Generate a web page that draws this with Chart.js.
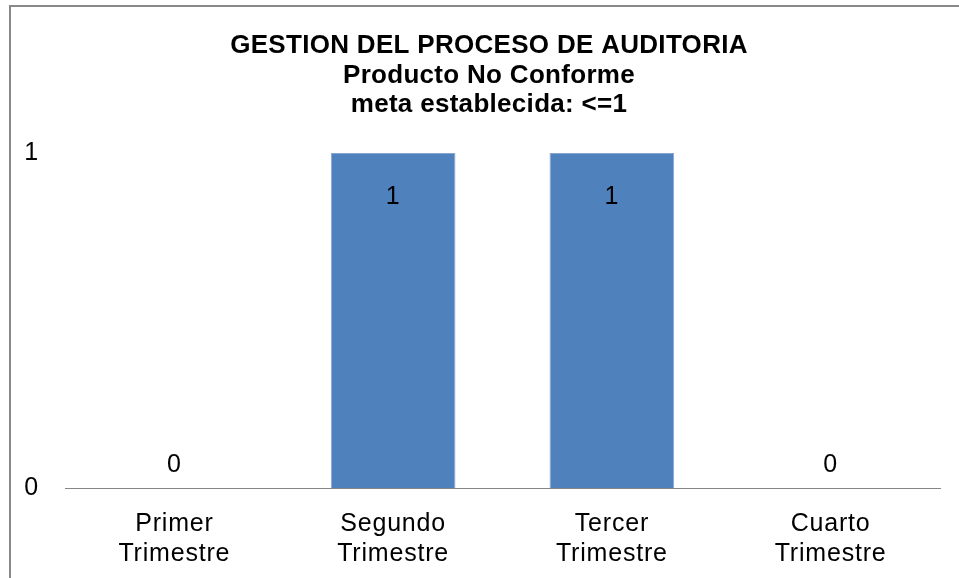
<!DOCTYPE html>
<html>
<head>
<meta charset="utf-8">
<script src="https://cdn.jsdelivr.net/npm/chart.js@4.4.1/dist/chart.umd.min.js"></script>
<style>
  html, body { margin: 0; padding: 0; background: #fff; overflow: hidden; }
  #marco { position: absolute; left: 9px; top: 5px; width: 990px; height: 620px; border: 2px solid #898989; box-sizing: border-box; }
  #lienzo { position: absolute; left: 0; top: 0; width: 959px; height: 578px; }
</style>
</head>
<body>
<div id="marco"></div>
<div id="lienzo"><canvas id="grafico"></canvas></div>
<script>
// Datos del gráfico
const titulo = ['GESTION DEL PROCESO DE AUDITORIA', 'Producto No Conforme', 'meta establecida: <=1'];
const trimestres = [['Primer', 'Trimestre'], ['Segundo', 'Trimestre'], ['Tercer', 'Trimestre'], ['Cuarto', 'Trimestre']];
const valores = [0, 1, 1, 0];
const ticksY = [0, 1];

const FUENTE = '"Liberation Sans", Arial, sans-serif';
const ESPACIADO = '0.8px';

// espaciado de letras (se pierde cada vez que el canvas cambia de tamaño)
const espaciado = {
    id: 'espaciado',
    beforeLayout(chart) { chart.ctx.letterSpacing = ESPACIADO; },
    beforeDraw(chart) { chart.ctx.letterSpacing = ESPACIADO; }
};

// título de tres líneas, centrado sobre el marco completo
const tituloPlugin = {
    id: 'tituloExcel',
    afterDraw(chart) {
        const ctx = chart.ctx;
        ctx.save();
        ctx.letterSpacing = '0.3px';
        ctx.font = 'bold 26px ' + FUENTE;
        ctx.fillStyle = '#000';
        ctx.textAlign = 'center';
        ctx.textBaseline = 'alphabetic';
        titulo.forEach((linea, i) => ctx.fillText(linea, 489, 53 + i * 29.5));
        ctx.restore();
    }
};

// etiquetas de valor: dentro de la barra si hay valor, encima del eje si es cero
const etiquetas = {
    id: 'etiquetas',
    afterDatasetsDraw(chart) {
        const ctx = chart.ctx;
        const meta = chart.getDatasetMeta(0);
        ctx.save();
        ctx.letterSpacing = ESPACIADO;
        ctx.font = '25px ' + FUENTE;
        ctx.fillStyle = '#000';
        ctx.textAlign = 'center';
        ctx.textBaseline = 'middle';
        meta.data.forEach((barra, i) => {
            const v = valores[i];
            const y = v > 0 ? barra.y + 44 : barra.y - 23;
            ctx.fillText(String(v), barra.x, y);
        });
        ctx.restore();
    }
};

new Chart(document.getElementById('grafico'), {
    type: 'bar',
    data: {
        labels: trimestres,
        datasets: [{
            data: valores,
            backgroundColor: '#4F81BD',
            borderColor: '#86A6D2',
            borderWidth: 1,
            barPercentage: 1,
            categoryPercentage: 0.57
        }]
    },
    options: {
        responsive: true,
        maintainAspectRatio: false,
        animation: false,
        layout: { padding: { top: 153, right: 19, bottom: 0, left: 0 } },
        plugins: { legend: { display: false }, tooltip: { enabled: false }, title: { display: false } },
        scales: {
            x: {
                afterFit(scale) { scale.height = 90; },
                grid: { display: false, drawTicks: false },
                border: { display: true, color: '#868686', width: 1 },
                ticks: {
                    color: '#000',
                    padding: 21,
                    maxRotation: 0,
                    font: { family: FUENTE, size: 25, lineHeight: 1.2 }
                }
            },
            y: {
                min: 0,
                max: 1,
                afterFit(scale) { scale.width = 65; },
                afterBuildTicks(scale) { scale.ticks = ticksY.map(v => ({ value: v })); },
                grid: { display: false, drawTicks: false },
                border: { display: false },
                ticks: {
                    color: '#000',
                    padding: 26,
                    font: { family: FUENTE, size: 25 }
                }
            }
        }
    },
    plugins: [espaciado, tituloPlugin, etiquetas]
});
</script>
</body>
</html>
